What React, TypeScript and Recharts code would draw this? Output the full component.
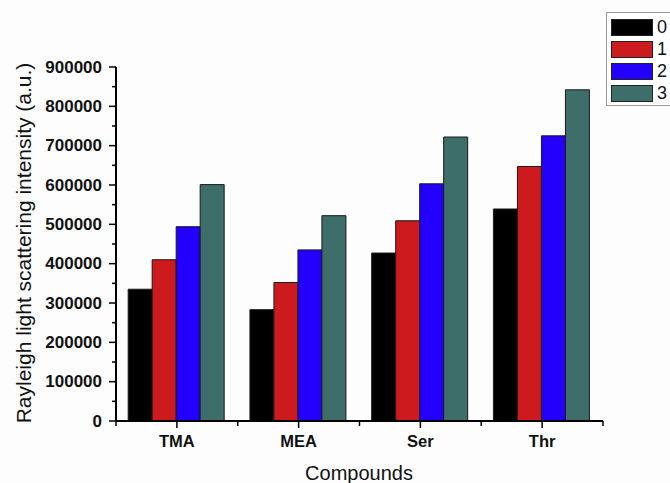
import { BarChart, Bar, XAxis, YAxis, Legend } from 'recharts';

const categories = ['TMA', 'MEA', 'Ser', 'Thr'];
const series0 = [335000, 283000, 427000, 539000];
const series1 = [410000, 352000, 509000, 647000];
const series2 = [494000, 435000, 603000, 725000];
const series3 = [601000, 522000, 722000, 842000];
const seriesNames = ['0', '1', '2', '3'];
const yTicks = [
  0, 50000, 100000, 150000, 200000, 250000, 300000, 350000, 400000, 450000,
  500000, 550000, 600000, 650000, 700000, 750000, 800000, 850000, 900000,
];

const COLORS = ['#000000', '#cc1a1f', '#2300fb', '#3d6e6a'];
const FONT = "Arial, 'Liberation Sans', sans-serif";

const data = categories.map((name, i) => ({
  name,
  s0: series0[i],
  s1: series1[i],
  s2: series2[i],
  s3: series3[i],
}));

const HALF_BAND = (603 - 116) / categories.length / 2;

const YTick = ({ x, y, payload }: any) => {
  const major = payload.value % 100000 === 0;
  return (
    <g>
      <line x1={x - (major ? 7 : 4)} x2={x} y1={y} y2={y} stroke="#000" strokeWidth={1.5} />
      {major && (
        <text
          x={x - 14}
          y={y}
          textAnchor="end"
          dominantBaseline="central"
          fontFamily={FONT}
          fontWeight="bold"
          fontSize={17}
          fill="#111"
        >
          {payload.value}
        </text>
      )}
    </g>
  );
};

const XTick = ({ x, y, payload, index }: any) => (
  <g>
    <line x1={x} x2={x} y1={y} y2={y + 7} stroke="#000" strokeWidth={1.5} />
    <line x1={x + HALF_BAND} x2={x + HALF_BAND} y1={y} y2={y + 5} stroke="#000" strokeWidth={1.5} />
    {index === 0 && (
      <line x1={x - HALF_BAND} x2={x - HALF_BAND} y1={y} y2={y + 5} stroke="#000" strokeWidth={1.5} />
    )}
    <text x={x} y={y + 26} textAnchor="middle" fontFamily={FONT} fontWeight="bold" fontSize={16.5} fill="#111">
      {payload.value}
    </text>
  </g>
);

const renderLegend = () => (
  <div
    style={{
      border: '1.5px solid #999',
      borderRight: 'none',
      background: '#fff',
      padding: '3px 0 1px 4px',
      width: 70,
      boxSizing: 'border-box',
    }}
  >
    {seriesNames.map((n, i) => (
      <div key={n} style={{ display: 'flex', alignItems: 'center', height: 22 }}>
        <div
          style={{
            width: 40,
            height: 15,
            background: COLORS[i],
            border: '1px solid #222',
          }}
        />
        <span style={{ marginLeft: 4, fontFamily: FONT, fontSize: 18, color: '#111', lineHeight: '18px' }}>
          {n}
        </span>
      </div>
    ))}
  </div>
);

export default function App() {
  return (
    <div
      style={{
        position: 'absolute',
        left: 0,
        top: 0,
        width: 670,
        height: 483,
        overflow: 'hidden',
        background: '#fdfdfd',
      }}
    >
      <BarChart
        width={670}
        height={483}
        data={data}
        margin={{ top: 67, right: 67, left: 0, bottom: 0 }}
        barCategoryGap="10%"
        barGap={0}
      >
        <XAxis
          dataKey="name"
          height={62}
          tickSize={0}
          tickMargin={0}
          tick={<XTick />}
          axisLine={{ stroke: '#000', strokeWidth: 2 }}
          label={{
            content: () => (
              <text x={359} y={480} textAnchor="middle" fontFamily={FONT} fontSize={20} fill="#111">
                Compounds
              </text>
            ),
          }}
        />
        <YAxis
          width={116}
          domain={[0, 900000]}
          ticks={yTicks}
          interval={0}
          tickSize={0}
          tickMargin={0}
          tick={<YTick />}
          axisLine={{ stroke: '#000', strokeWidth: 2 }}
          label={{
            content: () => (
              <text
                x={23}
                y={243}
                transform="rotate(-90 23 243)"
                textAnchor="middle"
                dominantBaseline="central"
                fontFamily={FONT}
                fontSize={21}
                fill="#111"
              >
                Rayleigh light scattering intensity (a.u.)
              </text>
            ),
          }}
        />
        <Legend
          content={renderLegend}
          layout="vertical"
          align="center"
          verticalAlign="middle"
          wrapperStyle={{ top: 12, left: 606, width: 70 }}
        />
        {['s0', 's1', 's2', 's3'].map((k, i) => (
          <Bar
            key={k}
            dataKey={k}
            name={seriesNames[i]}
            fill={COLORS[i]}
            stroke="#1a1a1a"
            strokeWidth={1}
            isAnimationActive={false}
          />
        ))}
      </BarChart>
    </div>
  );
}
